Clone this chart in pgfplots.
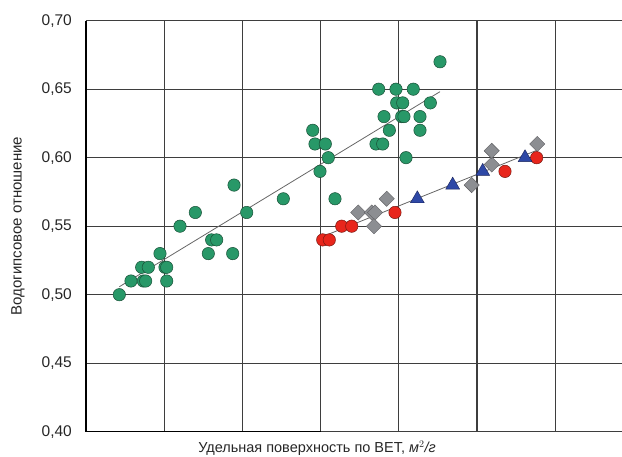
\documentclass[border=0pt]{standalone}
\usepackage{pgfplots}
\pgfplotsset{compat=1.18}
\usepackage{fontspec}
\setmainfont{Liberation Sans}
\definecolor{mgreen}{RGB}{40,152,104}
\definecolor{mgreenE}{RGB}{25,80,55}
\definecolor{mred}{RGB}{232,38,28}
\definecolor{mredE}{RGB}{120,25,18}
\definecolor{mblue}{RGB}{46,72,166}
\definecolor{mblueE}{RGB}{25,35,90}
\definecolor{mgray}{RGB}{140,142,146}
\definecolor{mgrayE}{RGB}{95,95,98}
\definecolor{gridc}{RGB}{62,62,62}
\begin{document}
\begin{tikzpicture}
\useasboundingbox (0,0) rectangle (622pt,457pt);
\begin{axis}[
  at={(86pt,25.3pt)}, anchor=south west,
  scale only axis, width=536pt, height=411pt,
  xmin=0, xmax=6.854, ymin=0.40, ymax=0.70,
  xtick={1,2,3,4,5,6}, xticklabels={},
  ytick={0.40,0.45,0.50,0.55,0.60,0.65,0.70},
  /pgf/number format/fixed,
  /pgf/number format/fixed zerofill,
  /pgf/number format/precision=2,
  /pgf/number format/use comma,
  /pgf/number format/assume math mode=true,
  yticklabel style={font=\fontsize{15.5}{18}\selectfont, color=black!85, inner sep=0pt, xshift=-14pt},
  major tick length=0pt,
  grid=major, major grid style={draw=gridc, line width=1.1pt},
  axis line style={draw=none},
  clip=false,
  xlabel={Удельная поверхность по BET, \textit{м}$^{2}$\textit{/г}},
  xlabel style={at={(axis description cs:0.431,0)}, anchor=base, yshift=-21.3pt, font=\fontsize{14.5}{16}\selectfont, color=black!85},
  ylabel={Водогипсовое отношение},
  ylabel style={at={(axis description cs:0,0.5)}, anchor=center, yshift=68pt, font=\fontsize{15}{17}\selectfont, color=black!85},
]
\draw[black, line width=1.6pt] (axis cs:0,0.40) -- (axis cs:0,0.70);
\draw[black, line width=1.6pt] (axis cs:0,0.40) -- (axis cs:3,0.40);

% green circles
\addplot[only marks, mark=*, mark size=6.2pt, mark options={fill=mgreen, draw=mgreenE, line width=0.5pt}] coordinates {
(0.426,0.50) (0.575,0.51) (0.712,0.52) (0.797,0.52) (0.733,0.51) (0.763,0.51)
(0.946,0.53) (1.010,0.52) (1.032,0.52) (1.032,0.51) (1.202,0.55) (1.398,0.56)
(1.564,0.53) (1.607,0.54) (1.671,0.54) (1.876,0.53) (1.893,0.58) (2.055,0.56)
(2.523,0.57) (4.527,0.67) (3.743,0.65) (3.964,0.65) (4.185,0.65) (3.973,0.64)
(4.050,0.64) (4.403,0.64) (3.811,0.63) (4.037,0.63) (4.066,0.63) (4.271,0.63)
(3.879,0.62) (4.271,0.62) (2.899,0.62) (2.928,0.61) (3.060,0.61) (3.708,0.61)
(3.794,0.61) (3.098,0.60) (4.092,0.60) (2.992,0.59) (3.184,0.57)
};
% gray diamonds
\addplot[only marks, mark=square*, mark size=5.4pt, mark options={rotate=45, fill=mgray, draw=mgrayE, line width=0.4pt}] coordinates {
(3.482,0.56) (3.653,0.56) (3.696,0.56) (3.683,0.55) (3.845,0.57)
(4.932,0.58) (5.188,0.595) (5.188,0.605) (5.771,0.61)
};
% red circles
\addplot[only marks, mark=*, mark size=6.2pt, mark options={fill=mred, draw=mredE, line width=0.5pt}] coordinates {
(3.027,0.54) (3.111,0.54) (3.270,0.55) (3.398,0.55) (3.951,0.56) (5.358,0.59) (5.763,0.60)
};
% blue triangles
\addplot[only marks, mark=triangle*, mark size=8pt, mark options={fill=mblue, draw=mblueE, line width=0.4pt}] coordinates {
(4.237,0.57) (4.689,0.58) (5.073,0.59) (5.614,0.60)
};
% trend lines
\addplot[no markers, color=black!60, line width=0.8pt] coordinates {(0.426,0.5058) (4.527,0.6482)};
\addplot[no markers, color=black!60, line width=0.8pt] coordinates {(3.078,0.5436) (5.774,0.6056)};
\end{axis}
\end{tikzpicture}
\end{document}
